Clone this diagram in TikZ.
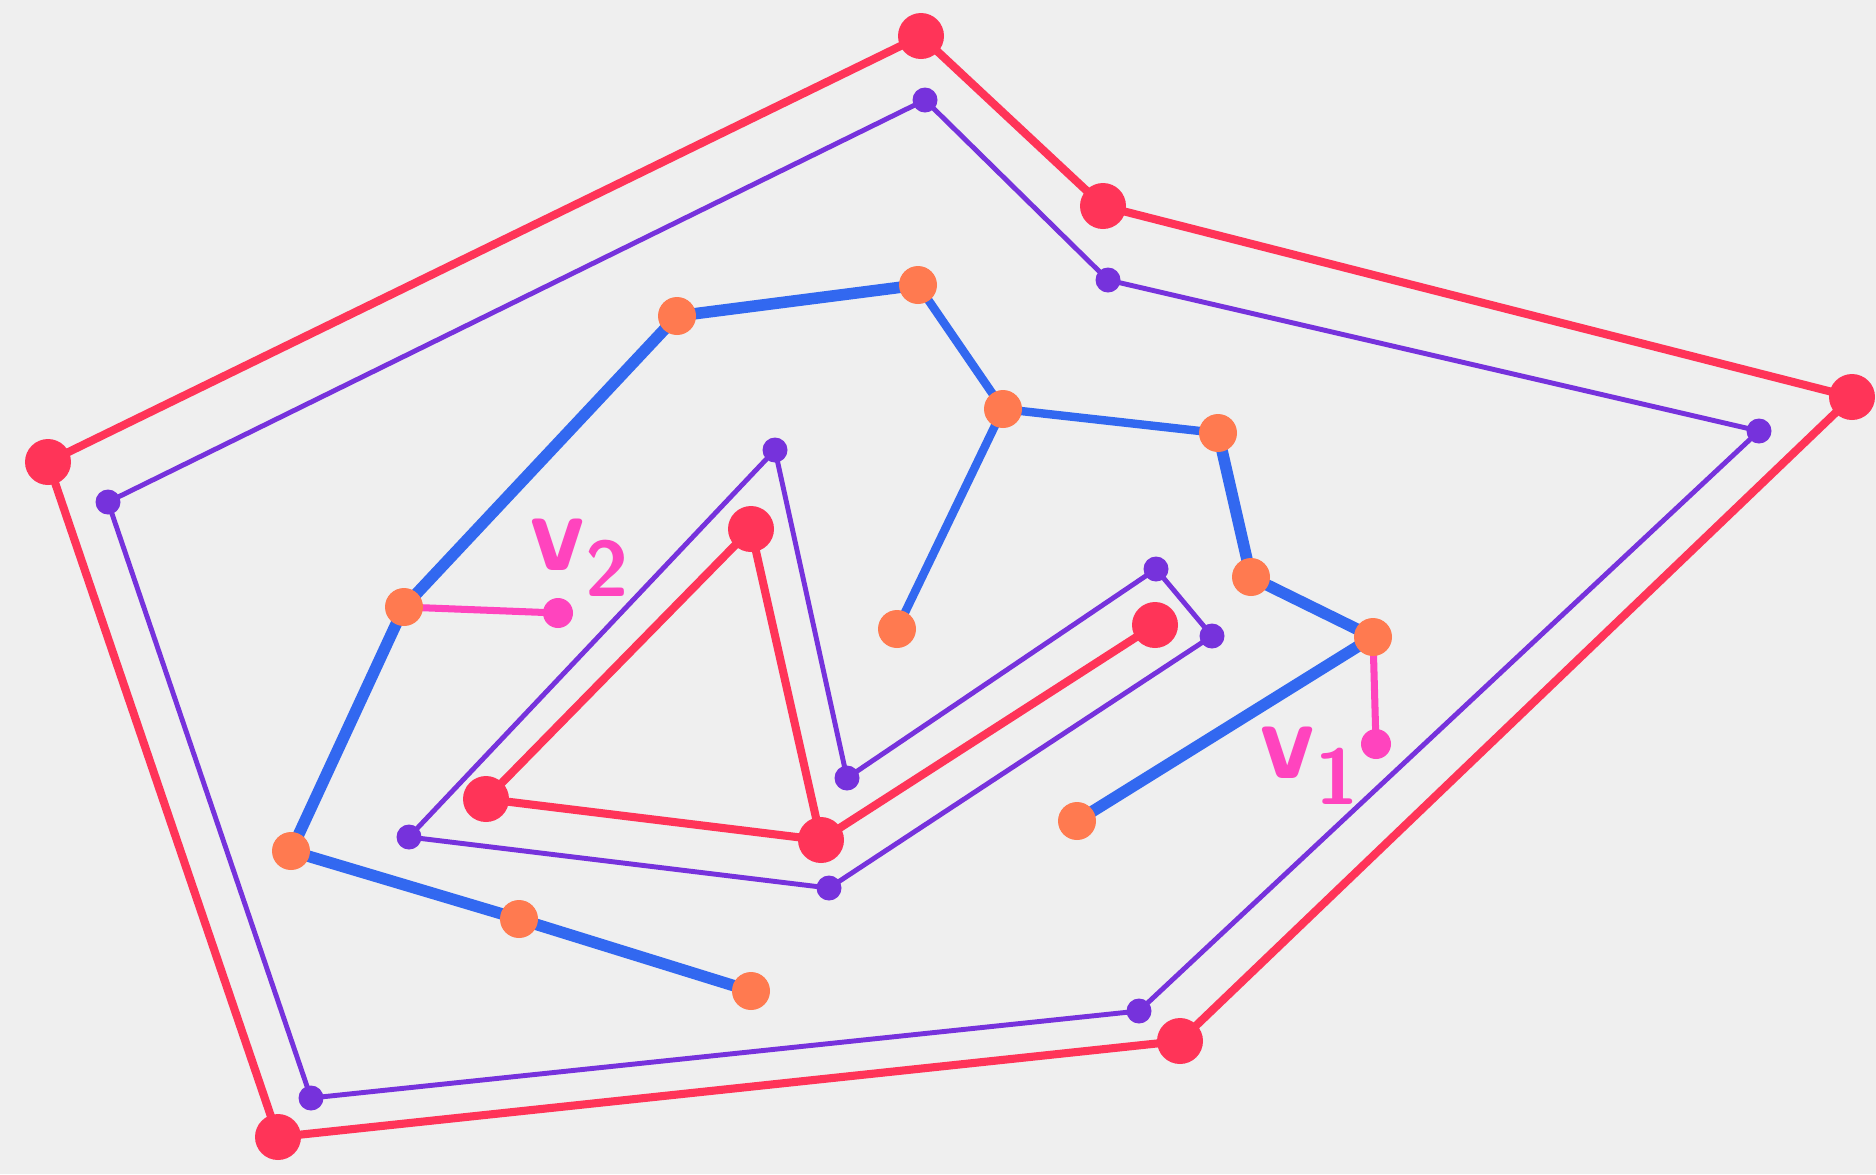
\documentclass[tikz,border=0pt]{standalone}
\usepackage{tikz}

\definecolor{paper}{RGB}{239,239,239}
\definecolor{cred}{RGB}{255,52,88}
\definecolor{cpurple}{RGB}{118,50,220}
\definecolor{cblue}{RGB}{50,104,240}
\definecolor{corange}{RGB}{255,122,80}
\definecolor{cpink}{RGB}{255,68,190}

\pgfdeclarelayer{paperlayer}
\pgfdeclarelayer{edges}
\pgfsetlayers{paperlayer,edges,main}

\tikzset{
  dot/.style={circle, inner sep=0pt, fill=#1},
  reddot/.style={dot=cred, minimum size=4.6mm},
  purpledot/.style={dot=cpurple, minimum size=2.5mm},
  orangedot/.style={dot=corange, minimum size=3.8mm},
  pinkdot/.style={dot=cpink, minimum size=3mm},
  redline/.style={draw=cred, line width=2.3pt, line cap=round},
  purpleline/.style={draw=cpurple, line width=1.4pt, line cap=round},
  blueline/.style={draw=cblue, line width=3.3pt, line cap=round},
  thinblue/.style={draw=cblue, line width=2.4pt, line cap=round},
  pinkline/.style={draw=cpink, line width=2pt, line cap=round},
  vlabel/.style={text=cpink, inner sep=1pt, font=\sffamily\bfseries\fontsize{32}{32}\selectfont}
}

\begin{document}
\begin{tikzpicture}[x=1cm, y=-1cm]
  % Paper
  \begin{pgfonlayer}{paperlayer}
    \fill[paper] (0,0) rectangle (18.76,11.74);
  \end{pgfonlayer}
  \useasboundingbox (0,0) rectangle (18.76,11.74);

  % ---- Outer red hull ----
  \foreach \n/\x/\y in {r1/9.21/0.36, r2/11.03/2.06, r3/18.52/3.97,
                        r4/11.80/10.41, r5/2.78/11.37, r6/0.48/4.62}
    \node[reddot] (\n) at (\x,\y) {};

  % ---- Purple hull ----
  \foreach \n/\x/\y in {p1/9.25/1.00, p2/11.08/2.80, p3/17.59/4.31,
                        p4/11.39/10.11, p5/3.11/10.98, p6/1.08/5.02}
    \node[purpledot] (\n) at (\x,\y) {};

  % ---- Inner purple zigzag ----
  \foreach \n/\x/\y in {q1/7.75/4.50, q2/4.09/8.37, q3/8.29/8.88,
                        q4/12.12/6.36, q5/11.56/5.69, q6/8.47/7.78}
    \node[purpledot] (\n) at (\x,\y) {};

  % ---- Inner red triangle and tail ----
  \foreach \n/\x/\y in {t1/7.51/5.29, t2/4.86/7.99, t3/8.21/8.40, t4/11.55/6.25}
    \node[reddot] (\n) at (\x,\y) {};

  % ---- Blue tree ----
  \foreach \n/\x/\y in {o1/6.77/3.16, o2/9.18/2.85, o3/10.03/4.09,
                        o4/12.18/4.33, o5/12.51/5.77, o6/13.73/6.37,
                        o7/10.77/8.21, o8/8.97/6.29, o9/4.04/6.07,
                        o10/2.91/8.51, o11/5.19/9.19, o12/7.51/9.91}
    \node[orangedot] (\n) at (\x,\y) {};

  % ---- Query points ----
  \node[pinkdot] (v2) at (5.58,6.13) {};
  \node[pinkdot] (v1) at (13.76,7.44) {};
  \node[vlabel] (lv2) at (5.80,5.58) {v\textsubscript{2}};
  \node[vlabel] (lv1) at (13.10,7.66) {v\textsubscript{1}};

  % ---- Edges, under the dots ----
  \begin{pgfonlayer}{edges}
    \draw[redline] (r1.center) -- (r2.center) -- (r3.center) -- (r4.center)
      -- (r5.center) -- (r6.center) -- (r1.center);
    \draw[purpleline] (p1.center) -- (p2.center) -- (p3.center) -- (p4.center)
      -- (p5.center) -- (p6.center) -- (p1.center);
    \draw[purpleline] (q1.center) -- (q2.center) -- (q3.center) -- (q4.center)
      -- (q5.center) -- (q6.center) -- (q1.center);
    \draw[redline] (t1.center) -- (t2.center) -- (t3.center) -- (t4.center);
    \draw[redline] (t3.center) -- (t1.center);
    \draw[blueline] (o9.center) -- (o1.center) -- (o2.center);
    \draw[thinblue] (o2.center) -- (o3.center) -- (o4.center);
    \draw[thinblue] (o3.center) -- (o8.center);
    \draw[blueline] (o4.center) -- (o5.center) -- (o6.center) -- (o7.center);
    \draw[blueline] (o9.center) -- (o10.center) -- (o11.center) -- (o12.center);
    \draw[pinkline] (o9.center) -- (v2.center);
    \draw[pinkline] (o6.center) -- (v1.center);
  \end{pgfonlayer}
\end{tikzpicture}
\end{document}
